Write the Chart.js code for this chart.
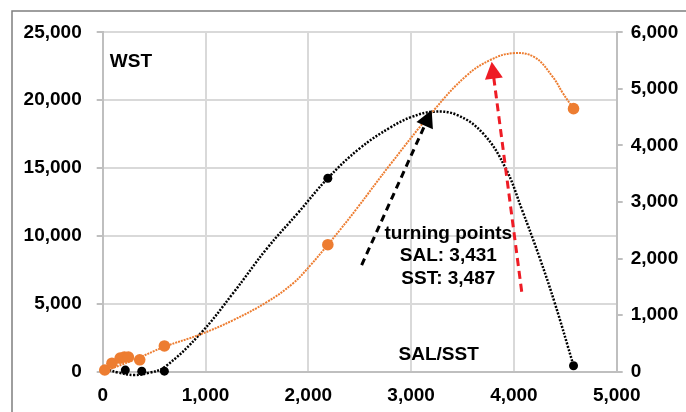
<!DOCTYPE html>
<html>
<head>
<meta charset="utf-8">
<script src="https://cdn.jsdelivr.net/npm/chart.js@4.4.1/dist/chart.umd.min.js"></script>
<style>
  html, body { margin: 0; padding: 0; background: #fff; }
  #wrap { width: 686px; height: 412px; position: relative; }
</style>
</head>
<body>
<div id="wrap"><canvas id="c" width="686" height="412"></canvas></div>
<script>
// ---- data ----
// WST (left axis) observations
const wstX = [25, 220, 380, 600, 2190, 4580];
const wstY = [130, 120, 40, 40, 14250, 440];
// second series (right axis) observations
const rightX = [20, 90, 170, 210, 250, 360, 600, 2190, 4580];
const rightY = [30, 150, 240, 260, 260, 210, 455, 2245, 4650];
// trendline of WST
const wstTrendX = [30, 150, 300, 450, 600, 950, 1270, 1600, 1900, 2190, 2500, 2800, 3000, 3220, 3450, 3700, 3920, 4080, 4250, 4400, 4580];
const wstTrendY = [200, -60, -240, -80, 330, 2800, 5800, 9100, 11700, 14250, 16450, 18000, 18750, 19150, 18900, 17550, 14980, 11900, 8400, 5000, 450];
// trendline of right-axis series
const rightTrendX = [0, 300, 600, 950, 1270, 1600, 1850, 2020, 2190, 2310, 2470, 2800, 3220, 3540, 3770, 3990, 4200, 4380, 4480, 4580];
const rightTrendY = [0, 206, 440, 660, 912, 1235, 1560, 1880, 2245, 2510, 2880, 3670, 4620, 5236, 5510, 5630, 5560, 5206, 4913, 4650];
// axis ranges
const xRange = [0, 5000, 1000];
const leftRange = [0, 25000, 5000];
const rightRange = [0, 6000, 1000];
// annotation texts and positions (data units: x, left-axis y)
const labelTexts = ['WST', 'SAL/SST', 'turning points', 'SAL: 3,431', 'SST: 3,487'];
const labelX = [275, 3268, 3362, 3362, 3362];
const labelY = [22820, 1230, 10192, 8543, 6879];
// arrows: [tailX, tailY, tipX, tipY] in data units (left axis)
const blackArrow = [2519, 7857, 3200, 19270];
const redArrow = [4076, 5891, 3784, 22828];

const FONT = "'Liberation Sans', Arial, Helvetica, sans-serif";
Chart.defaults.font.family = FONT;

const toPts = (xs, ys) => xs.map((x, i) => ({x: x, y: ys[i]}));

const framePlugin = {
  id: 'frame',
  beforeDraw(chart) {
    const ctx = chart.ctx;
    ctx.save();
    ctx.fillStyle = '#fff';
    ctx.fillRect(0, 0, chart.width, chart.height);
    ctx.strokeStyle = '#7f7f7f';
    ctx.lineWidth = 1.5;
    ctx.beginPath();
    ctx.moveTo(12, chart.height + 5);
    ctx.lineTo(12, 11);
    ctx.lineTo(chart.width + 5, 11);
    ctx.stroke();
    ctx.restore();
  }
};

function drawArrow(ctx, x0, y0, x1, y1, color, dash) {
  const ang = Math.atan2(y1 - y0, x1 - x0);
  const headLen = 17, headW = 9;
  const bx = x1 - headLen * Math.cos(ang), by = y1 - headLen * Math.sin(ang);
  ctx.save();
  ctx.strokeStyle = color;
  ctx.fillStyle = color;
  ctx.lineWidth = 3;
  ctx.setLineDash(dash);
  ctx.beginPath();
  ctx.moveTo(x0, y0);
  ctx.lineTo(bx + 2 * Math.cos(ang), by + 2 * Math.sin(ang));
  ctx.stroke();
  ctx.setLineDash([]);
  ctx.beginPath();
  ctx.moveTo(x1, y1);
  ctx.lineTo(bx + headW * Math.sin(ang), by - headW * Math.cos(ang));
  ctx.lineTo(bx - headW * Math.sin(ang), by + headW * Math.cos(ang));
  ctx.closePath();
  ctx.fill();
  ctx.restore();
}

const annotPlugin = {
  id: 'annot',
  afterDatasetsDraw(chart) {
    const ctx = chart.ctx;
    const xs = chart.scales.x, ys = chart.scales.y;
    const px = v => xs.getPixelForValue(v), py = v => ys.getPixelForValue(v);
    drawArrow(ctx, px(blackArrow[0]), py(blackArrow[1]), px(blackArrow[2]), py(blackArrow[3]), '#000', [7, 5]);
    drawArrow(ctx, px(redArrow[0]), py(redArrow[1]), px(redArrow[2]), py(redArrow[3]), '#ee1c25', [8, 5]);
    ctx.save();
    ctx.fillStyle = '#000';
    ctx.font = 'bold 19px ' + FONT;
    ctx.textAlign = 'center';
    ctx.textBaseline = 'middle';
    labelTexts.forEach((t, i) => {
      ctx.fillText(t, px(labelX[i]), py(labelY[i]));
    });
    ctx.restore();
  }
};

const tickFont = {size: 19, weight: 'bold', family: FONT};

new Chart(document.getElementById('c'), {
  type: 'scatter',
  data: {
    datasets: [
      {
        label: 'WST trend',
        data: toPts(wstTrendX, wstTrendY),
        yAxisID: 'y',
        showLine: true,
        pointRadius: 0,
        borderColor: '#000',
        borderWidth: 2.5,
        borderDash: [2, 1.5],
        tension: 0.4,
        clip: false,
        order: 4
      },
      {
        label: 'trend right',
        data: toPts(rightTrendX, rightTrendY),
        yAxisID: 'y2',
        showLine: true,
        pointRadius: 0,
        borderColor: '#ed7d31',
        borderWidth: 2,
        borderDash: [2, 1],
        tension: 0.4,
        clip: false,
        order: 3
      },
      {
        label: 'WST',
        data: toPts(wstX, wstY),
        yAxisID: 'y',
        pointRadius: 4.5,
        pointBackgroundColor: '#000',
        pointBorderColor: '#000',
        pointBorderWidth: 0,
        clip: false,
        order: 2
      },
      {
        label: 'right',
        data: toPts(rightX, rightY),
        yAxisID: 'y2',
        pointRadius: 5.8,
        pointBackgroundColor: '#ed7d31',
        pointBorderColor: '#ed7d31',
        pointBorderWidth: 0,
        clip: false,
        order: 1
      }
    ]
  },
  options: {
    responsive: false,
    animation: false,
    devicePixelRatio: 1,
    layout: {padding: {top: 32.3, left: 0, right: 0, bottom: 0}},
    plugins: {legend: {display: false}, tooltip: {enabled: false}},
    scales: {
      x: {
        type: 'linear',
        min: xRange[0], max: xRange[1],
        ticks: {stepSize: xRange[2], font: tickFont, color: '#000', padding: 13, maxRotation: 0},
        grid: {color: '#d9d9d9', lineWidth: 2, drawTicks: false},
        border: {color: '#bfbfbf', width: 2},
        afterFit(s) { s.height = 40.3; }
      },
      y: {
        type: 'linear',
        position: 'left',
        min: leftRange[0], max: leftRange[1],
        ticks: {stepSize: leftRange[2], font: tickFont, color: '#000', padding: 15},
        grid: {color: '#d9d9d9', lineWidth: 2, tickLength: 6, tickColor: '#bfbfbf'},
        border: {color: '#bfbfbf', width: 2},
        afterFit(s) { s.width = 102.7; }
      },
      y2: {
        type: 'linear',
        position: 'right',
        min: rightRange[0], max: rightRange[1],
        ticks: {stepSize: rightRange[2], font: tickFont, color: '#000', padding: 8},
        grid: {drawOnChartArea: false, tickLength: 6, color: '#bfbfbf', lineWidth: 2},
        border: {color: '#bfbfbf', width: 2},
        afterFit(s) { s.width = 69.3; }
      }
    }
  },
  plugins: [framePlugin, annotPlugin]
});
</script>
</body>
</html>
